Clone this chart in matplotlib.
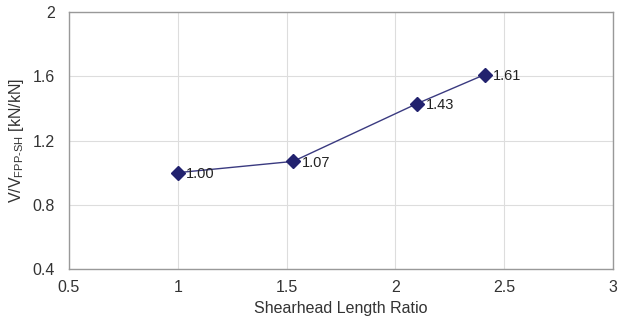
import matplotlib
matplotlib.use('Agg')
import matplotlib.pyplot as plt

plt.rcParams['font.family'] = ['Liberation Sans', 'DejaVu Sans']
plt.rcParams['mathtext.fontset'] = 'custom'
plt.rcParams['mathtext.rm'] = 'Liberation Sans'

# data
ratio = [1.00, 1.53, 2.10, 2.41]
v_norm = [1.00, 1.07, 1.43, 1.61]
labels = ['1.00', '1.07', '1.43', '1.61']
xticks = [0.5, 1, 1.5, 2, 2.5, 3]
yticks = [0.4, 0.8, 1.2, 1.6, 2]

fig = plt.figure(figsize=(6.2, 3.31), dpi=100)
ax = fig.add_axes([0.111, 0.187, 0.878, 0.777])

ax.plot(ratio, v_norm, color='#3a3a80', lw=1.0, zorder=3)
ax.plot(ratio, v_norm, ls='none', marker='D', ms=7, color='#22226e', zorder=4)
for x, y, s in zip(ratio, v_norm, labels):
    ax.annotate(s, (x, y), xytext=(6, -1), textcoords='offset points',
                va='center', ha='left', fontsize=10.5, color='#222222')

ax.set_xlim(0.5, 3)
ax.set_ylim(0.4, 2)
ax.set_xticks(xticks)
ax.set_xticklabels(['0.5', '1', '1.5', '2', '2.5', '3'])
ax.set_yticks(yticks)
ax.set_yticklabels(['0.4', '0.8', '1.2', '1.6', '2'])
ax.tick_params(length=0, labelsize=11.5, colors='#333333')
ax.tick_params(axis='x', pad=8)
ax.tick_params(axis='y', pad=10)
ax.grid(True, color='#dddddd', lw=0.8)
ax.set_axisbelow(True)
for sp in ax.spines.values():
    sp.set_color('#999999')
    sp.set_linewidth(1.0)

ax.set_xlabel('Shearhead Length Ratio', fontsize=11.5, color='#333333', labelpad=4)
ax.set_ylabel(r'V/V$_{\mathrm{FPP}\text{-}\mathrm{SH}}$ [kN/kN]', fontsize=11.5,
              color='#333333', labelpad=5)

fig.savefig('out.png', dpi=100)
